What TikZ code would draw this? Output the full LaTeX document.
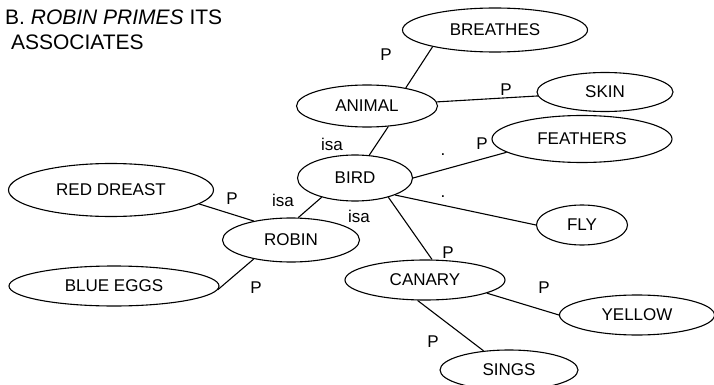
\documentclass[tikz,border=0pt]{standalone}
\usepackage{fontspec}
\setmainfont{Liberation Sans}
\usetikzlibrary{shapes.geometric}

\begin{document}
\begin{tikzpicture}[x=1pt, y=-1pt, font=\fontsize{17}{20}\selectfont]
		\tikzstyle{concept} = [ellipse, draw=black, line width=1.1pt, inner sep=0pt]
		
		\tikzstyle{tag} = [inner sep=1pt]
		
		\tikzstyle{link} = [-, line width=1.1pt]
		
		\useasboundingbox (0,0) rectangle (714,385);
		
		% Heading
		\node (title) [anchor=north west, align=left, font=\fontsize{21}{25}\selectfont, inner sep=0pt] at (5,10) {B. \textit{ROBIN PRIMES} ITS\\ \ ASSOCIATES};
		
		% Concept nodes
		\node (breathes) [concept, minimum width=185, minimum height=44] at (495,30) {BREATHES};
		\node (skin) [concept, minimum width=136, minimum height=39] at (605,92) {SKIN};
		\node (animal) [concept, minimum width=141, minimum height=42] at (367,106) {ANIMAL};
		\node (feathers) [concept, minimum width=180, minimum height=47] at (582,139) {FEATHERS};
		\node (bird) [concept, minimum width=115, minimum height=46] at (355,178) {BIRD};
		\node (fly) [concept, minimum width=91, minimum height=40] at (582,225) {FLY};
		\node (redbreast) [concept, minimum width=205, minimum height=53] at (111,190) {RED DREAST};
		\node (robin) [concept, minimum width=137, minimum height=44] at (291,240) {ROBIN};
		\node (blueeggs) [concept, minimum width=210, minimum height=40] at (114,286) {BLUE EGGS};
		\node (canary) [concept, minimum width=160, minimum height=40] at (425,280) {CANARY};
		\node (yellow) [concept, minimum width=155, minimum height=40] at (637,315) {YELLOW};
		\node (sings) [concept, minimum width=138, minimum height=40] at (509,370) {SINGS};
		
		% Links
		\draw [link] (animal.25) -- (breathes.195);
		\draw [link] (animal) -- (skin);
		\draw [link] (bird.58) -- (animal.-44);
		\draw [link] (bird.0) -- (feathers.190);
		\draw [link] (bird.-23) -- (fly.180);
		\draw [link] (bird.-30) -- (canary.71);
		\draw [link] (robin.72) -- (bird.-150);
		\draw [link] (redbreast.-9) -- (robin.153);
		\draw [link] (blueeggs.-2) -- (robin.-153);
		\draw [link] (canary.-12) -- (yellow.180);
		\draw [link] (canary.-110) -- (sings.143);
		
		% Link labels
		\node (pbreathes) [tag] at (386,55) {P};
		\node (pskin) [tag] at (506,90) {P};
		\node (isaanimal) [tag] at (332,144) {isa};
		\node (pfeathers) [tag] at (482,144) {P};
		\node (dotfeathers) [tag] at (443,155) {.};
		\node (dotfly) [tag] at (443,197) {.};
		\node (pcanary) [tag] at (448,253) {P};
		\node (isarobin) [tag] at (283,200) {isa};
		\node (isacanary) [tag] at (359,216) {isa};
		\node (predbreast) [tag] at (232,199) {P};
		\node (pblueeggs) [tag] at (256,288) {P};
		\node (pyellow) [tag] at (544,288) {P};
		\node (psings) [tag] at (433,342) {P};
\end{tikzpicture}
\end{document}
